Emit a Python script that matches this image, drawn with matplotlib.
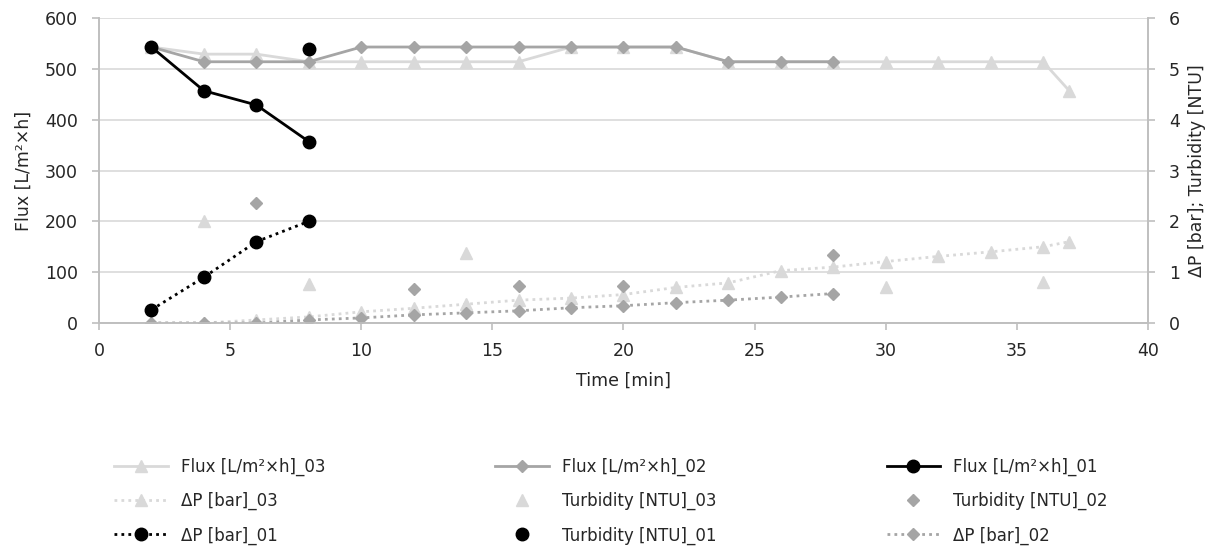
import matplotlib.pyplot as plt

plt.rcParams['font.family'] = ['DejaVu Sans']

# flux series [L/m2xh]
t_flux_03 = [2, 4, 6, 8, 10, 12, 14, 16, 18, 20, 22, 24, 26, 28, 30, 32, 34, 36, 37]
flux_03 = [543, 529, 529, 514, 514, 514, 514, 514, 543, 543, 543, 514, 514, 514, 514, 514, 514, 514, 457]
t_flux_02 = [2, 4, 6, 8, 10, 12, 14, 16, 18, 20, 22, 24, 26, 28]
flux_02 = [543, 514, 514, 514, 543, 543, 543, 543, 543, 543, 543, 514, 514, 514]
t_flux_01 = [2, 4, 6, 8]
flux_01 = [543, 457, 429, 357]

# pressure drop [bar]
t_dp_03 = [2, 4, 6, 8, 10, 12, 14, 16, 18, 20, 22, 24, 26, 28, 30, 32, 34, 36, 37]
dp_03 = [0, 0, 0.06, 0.12, 0.22, 0.29, 0.37, 0.45, 0.49, 0.56, 0.70, 0.79, 1.03, 1.10, 1.21, 1.31, 1.40, 1.50, 1.60]
t_dp_02 = [2, 4, 6, 8, 10, 12, 14, 16, 18, 20, 22, 24, 26, 28]
dp_02 = [0, 0, 0, 0.06, 0.10, 0.16, 0.20, 0.24, 0.30, 0.34, 0.40, 0.45, 0.51, 0.58]
t_dp_01 = [2, 4, 6, 8]
dp_01 = [0.26, 0.90, 1.60, 2.00]

# turbidity [NTU]
t_turb_03 = [4, 8, 14, 30, 36]
turb_03 = [2.0, 0.77, 1.37, 0.71, 0.81]
t_turb_02 = [6, 12, 16, 20, 28]
turb_02 = [2.37, 0.67, 0.73, 0.73, 1.33]
t_turb_01 = [8]
turb_01 = [5.4]

c3 = '#d9d9d9'
c2 = '#a5a5a5'
c1 = '#000000'
spine_c = '#bfbfbf'
txt_c = '#262626'
dots = (0, (1, 1.5))

fig = plt.figure(figsize=(12.22, 5.47), dpi=100)
ax = fig.add_axes([0.081, 0.4095, 0.8584, 0.5575])
ax2 = ax.twinx()

h_f3, = ax.plot(t_flux_03, flux_03, color=c3, lw=2, marker='^', ms=8, label='Flux [L/m²×h]_03')
h_f2, = ax.plot(t_flux_02, flux_02, color=c2, lw=2, marker='D', ms=6.5, label='Flux [L/m²×h]_02')
h_f1, = ax.plot(t_flux_01, flux_01, color=c1, lw=2, marker='o', ms=9, label='Flux [L/m²×h]_01')

h_d3, = ax2.plot(t_dp_03, dp_03, color=c3, lw=2, ls=dots, marker='^', ms=8, label='ΔP [bar]_03')
h_d2, = ax2.plot(t_dp_02, dp_02, color=c2, lw=2, ls=dots, marker='D', ms=6.5, label='ΔP [bar]_02')
h_d1, = ax2.plot(t_dp_01, dp_01, color=c1, lw=2, ls=dots, marker='o', ms=9, label='ΔP [bar]_01')

h_t3, = ax2.plot(t_turb_03, turb_03, color=c3, ls='none', marker='^', ms=8, label='Turbidity [NTU]_03')
h_t2, = ax2.plot(t_turb_02, turb_02, color=c2, ls='none', marker='D', ms=6.5, label='Turbidity [NTU]_02')
h_t1, = ax2.plot(t_turb_01, turb_01, color=c1, ls='none', marker='o', ms=9, label='Turbidity [NTU]_01')

ax.set_xlim(0, 40)
ax.set_ylim(0, 600)
ax2.set_ylim(0, 6)
ax.set_xticks(range(0, 41, 5))
ax.set_yticks(range(0, 601, 100))
ax2.set_yticks(range(0, 7))

ax.grid(axis='y', color=c3, lw=1.2)
ax.set_axisbelow(True)

for a in (ax, ax2):
    a.spines['top'].set_visible(False)
    for s in ('left', 'right', 'bottom'):
        a.spines[s].set_color(spine_c)
        a.spines[s].set_linewidth(1.2)
    a.tick_params(colors=spine_c, labelcolor=txt_c, labelsize=12.5, length=5, width=1.2, pad=10)
ax.tick_params(axis='x', pad=9)

ax.set_xlabel('Time [min]', fontsize=12.5, color=txt_c, labelpad=8)
ax.set_ylabel('Flux [L/m²×h]', fontsize=12.5, color=txt_c, labelpad=9)
ax2.set_ylabel('ΔP [bar]; Turbidity [NTU]', fontsize=12.5, color=txt_c, labelpad=6)

handles = [h_f3, h_d3, h_d1, h_f2, h_t3, h_t1, h_f1, h_t2, h_d2]
fig.legend(handles=handles, labels=[h.get_label() for h in handles],
           ncol=3, loc='upper center', bbox_to_anchor=(0.5, 0.19), frameon=False,
           fontsize=12, handlelength=3.2, columnspacing=10.2, labelspacing=0.95,
           labelcolor=txt_c)

fig.savefig('out.png', dpi=100)
